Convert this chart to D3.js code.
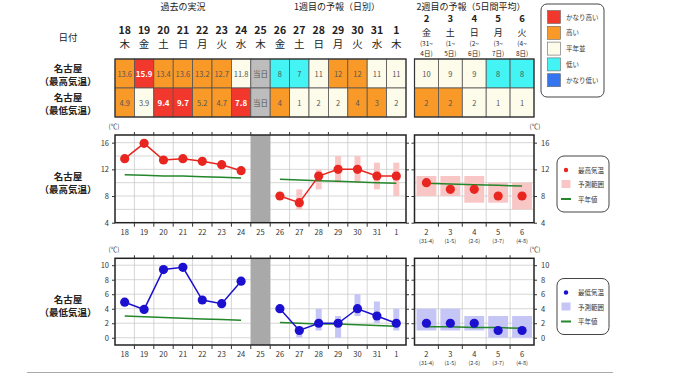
<!DOCTYPE html>
<html><head><meta charset="utf-8">
<script src="https://cdn.jsdelivr.net/npm/d3@7"></script>
<style>
body{margin:0;background:#fff;}
svg text{font-family:"Noto Sans CJK JP","Noto Sans",sans-serif;}
</style></head><body>
<svg id="chart" width="680" height="382"></svg>
<script>
// days on the first table / panel (past 7 days, today, week-1 forecast)
const days = ["18","19","20","21","22","23","24","25","26","27","28","29","30","31","1"];
const weekdays = ["木","金","土","日","月","火","水","木","金","土","日","月","火","水","木"];
const pastDays = ["18","19","20","21","22","23","24"];
const w1Days = ["26","27","28","29","30","31","1"];
const todayDay = "25";

// week 2 (5-day means)
const w2Days = ["2","3","4","5","6"];
const w2Weekdays = ["金","土","日","月","火"];
const w2SpanTop = ["(31~","(1~","(2~","(3~","(4~"];
const w2SpanBottom = ["4日)","5日)","6日)","7日)","8日)"];
const w2AxisSub = ["(31-4)","(1-5)","(2-6)","(3-7)","(4-8)"];

// max temperature
const pastMax = [13.6,15.9,13.4,13.6,13.2,12.7,11.8];
const pastMaxLevel = ["high","vhigh","high","high","high","high","normal"];
const pastMaxNormal = [11.2,11.1,11.0,11.0,10.9,10.8,10.7];
const w1Max = [8,7,11,12,12,11,11];
const w1MaxLevel = ["low","low","normal","high","high","normal","normal"];
const w1MaxLo = [null,6,9,10,10,9,8];
const w1MaxHi = [null,9,12,14,14,13,13];
const w1MaxNormal = [10.5,10.4,10.3,10.2,10.1,10.0,9.9];
const w2Max = [10,9,9,8,8];
const w2MaxLevel = ["normal","normal","normal","low","low"];
const w2MaxLo = [8,8,7,7,6];
const w2MaxHi = [11,11,11,10,10];
const w2MaxNormal = [9.9,9.8,9.7,9.6,9.5];

// min temperature
const pastMin = [4.9,3.9,9.4,9.7,5.2,4.7,7.8];
const pastMinLevel = ["high","normal","vhigh","vhigh","high","high","vhigh"];
const pastMinNormal = [3.0,2.9,2.8,2.7,2.6,2.5,2.4];
const w1Min = [4,1,2,2,4,3,2];
const w1MinLevel = ["high","normal","normal","normal","high","high","normal"];
const w1MinLo = [null,0,1,0,3,2,1];
const w1MinHi = [null,1,4,3,6,5,4];
const w1MinNormal = [2.1,2.0,1.9,1.9,1.8,1.7,1.6];
const w2Min = [2,2,2,1,1];
const w2MinLevel = ["high","high","normal","normal","normal"];
const w2MinLo = [1,1,1,0,0];
const w2MinHi = [4,4,3,3,3];
const w2MinNormal = [1.5,1.5,1.4,1.4,1.3];

const levelNames = ["vhigh","high","normal","low","vlow"];
const levelLabels = ["かなり高い","高い","平年並","低い","かなり低い"];

const levelColor = {vhigh:"#f2372c", high:"#f99a28", normal:"#fdfbea", low:"#44f3f3", vlow:"#3474ee", today:"#bdbdbd"};

const svg = d3.select("#chart");
const dayX = d3.scaleBand().domain(days).range([115, 406]);
const w2X = d3.scaleBand().domain(w2Days).range([414.5, 534]);

// ---------- headers ----------
const hdr = svg.append("g").attr("fill", "#222").attr("font-size", 9).attr("text-anchor", "middle");
hdr.append("text").attr("x", 183).attr("y", 9.5).text("過去の実況");
hdr.append("text").attr("x", 337).attr("y", 9.5).text("1週目の予報（日別）");
hdr.append("text").attr("x", 471).attr("y", 9.5).text("2週目の予報（5日間平均）");
hdr.append("text").attr("x", 68).attr("y", 41).attr("font-size", 9.5).text("日付");

days.forEach((d, i) => {
  hdr.append("text").attr("x", dayX(d) + dayX.bandwidth()/2).attr("y", 33.5)
    .attr("font-weight", "bold").attr("font-size", 10.5).attr("font-family", "Liberation Sans, Arial").text(d);
  hdr.append("text").attr("x", dayX(d) + dayX.bandwidth()/2).attr("y", 48)
    .attr("font-size", 10.5).text(weekdays[i]);
});
w2Days.forEach((d, i) => {
  const cx = w2X(d) + w2X.bandwidth()/2;
  hdr.append("text").attr("x", cx).attr("y", 22).attr("font-weight", "bold")
    .attr("font-size", 9.5).attr("font-family", "Liberation Sans, Arial").text(d);
  hdr.append("text").attr("x", cx).attr("y", 35.5).attr("font-size", 9).text(w2Weekdays[i]);
  hdr.append("text").attr("x", cx).attr("y", 46).attr("font-size", 6.5).text(w2SpanTop[i]);
  hdr.append("text").attr("x", cx).attr("y", 55.5).attr("font-size", 6.5).text(w2SpanBottom[i]);
});

// row labels
[["（最高気温）", 68], ["（最低気温）", 97]].forEach(([lab, y]) => {
  hdr.append("text").attr("x", 68).attr("y", y + 4).attr("font-size", 9.5).attr("font-weight", "bold").text("名古屋");
  hdr.append("text").attr("x", 68).attr("y", y + 17).attr("font-size", 9.5).attr("font-weight", "bold").text(lab);
});

// ---------- table ----------
const rows = [
  {y: 59, vals: pastMax.concat(["当日"], w1Max), lv: pastMaxLevel.concat(["today"], w1MaxLevel), w2: w2Max, w2lv: w2MaxLevel},
  {y: 88, vals: pastMin.concat(["当日"], w1Min), lv: pastMinLevel.concat(["today"], w1MinLevel), w2: w2Min, w2lv: w2MinLevel}
];
const rowH = 29;
const tbl = svg.append("g");
rows.forEach(r => {
  days.forEach((d, i) => {
    const lv = r.lv[i];
    tbl.append("rect").attr("x", dayX(d)).attr("y", r.y).attr("width", dayX.bandwidth()).attr("height", rowH)
      .attr("fill", levelColor[lv]).attr("stroke", "#555").attr("stroke-width", 0.8);
    tbl.append("text").attr("x", dayX(d) + dayX.bandwidth()/2).attr("y", r.y + rowH/2 + 3)
      .attr("text-anchor", "middle").attr("font-size", lv === "vhigh" ? 8 : 7.5)
      .attr("font-weight", lv === "vhigh" ? "bold" : "normal")
      .attr("fill", lv === "vhigh" ? "#fff" : "#555").text(r.vals[i]);
  });
  w2Days.forEach((d, i) => {
    const lv = r.w2lv[i];
    tbl.append("rect").attr("x", w2X(d)).attr("y", r.y).attr("width", w2X.bandwidth()).attr("height", rowH)
      .attr("fill", levelColor[lv]).attr("stroke", "#555").attr("stroke-width", 0.8);
    tbl.append("text").attr("x", w2X(d) + w2X.bandwidth()/2).attr("y", r.y + rowH/2 + 3)
      .attr("text-anchor", "middle").attr("font-size", 7.5).attr("fill", "#555").text(r.w2[i]);
  });
});
tbl.append("rect").attr("x", 115).attr("y", 59).attr("width", 291).attr("height", 58)
  .attr("fill", "none").attr("stroke", "#333").attr("stroke-width", 1.2);
tbl.append("rect").attr("x", 414.5).attr("y", 59).attr("width", 119.5).attr("height", 58)
  .attr("fill", "none").attr("stroke", "#333").attr("stroke-width", 1.2);

// level legend
const lg = svg.append("g");
lg.append("rect").attr("x", 541).attr("y", 4).attr("width", 63).attr("height", 93).attr("rx", 6)
  .attr("fill", "#fff").attr("stroke", "#444");
levelNames.forEach((l, i) => {
  const y = 17 + i * 15.8;
  lg.append("rect").attr("x", 547.5).attr("y", y - 6.5).attr("width", 13).attr("height", 13)
    .attr("fill", levelColor[l]).attr("stroke", "#666").attr("stroke-width", 0.6);
  lg.append("text").attr("x", 566).attr("y", y + 2.5).attr("font-size", 6.5).attr("fill", "#333").text(levelLabels[i]);
});

// ---------- charts ----------
function drawChart(c) {
  const g = svg.append("g");
  const y = d3.scaleLinear().domain(c.domain).range([c.bottom, c.top]);
  const cx = d => dayX(d) + dayX.bandwidth()/2;
  const wx = d => w2X(d) + w2X.bandwidth()/2;
  const panels = [[115, 406], [414.5, 534]];

  // grid
  panels.forEach(([x0, x1]) => {
    g.append("g").selectAll("line").data(c.grid).join("line")
      .attr("x1", x0).attr("x2", x1).attr("y1", d => y(d)).attr("y2", d => y(d))
      .attr("stroke", "#ccc").attr("stroke-width", 0.8);
  });
  g.append("g").selectAll("line").data(days.slice(1)).join("line")
    .attr("x1", d => dayX(d)).attr("x2", d => dayX(d)).attr("y1", c.top).attr("y2", c.bottom)
    .attr("stroke", "#ccc").attr("stroke-width", 0.8);
  g.append("g").selectAll("line").data(w2Days.slice(1)).join("line")
    .attr("x1", d => w2X(d)).attr("x2", d => w2X(d)).attr("y1", c.top).attr("y2", c.bottom)
    .attr("stroke", "#ccc").attr("stroke-width", 0.8);

  // today band
  g.append("rect").attr("x", dayX(todayDay)).attr("y", c.top).attr("width", dayX.bandwidth())
    .attr("height", c.bottom - c.top).attr("fill", "#a9a9a9");

  // range bars
  g.append("g").selectAll("rect").data(w1Days.filter((d, i) => c.w1Lo[i] != null)).join("rect")
    .attr("x", d => cx(d) - 3).attr("width", 6)
    .attr("y", d => y(c.w1Hi[w1Days.indexOf(d)]))
    .attr("height", d => y(c.w1Lo[w1Days.indexOf(d)]) - y(c.w1Hi[w1Days.indexOf(d)]))
    .attr("fill", c.rangeColor);
  g.append("g").selectAll("rect").data(w2Days).join("rect")
    .attr("x", d => w2X(d) + 2).attr("width", w2X.bandwidth() - 4)
    .attr("y", (d, i) => y(c.w2Hi[i]))
    .attr("height", (d, i) => y(c.w2Lo[i]) - y(c.w2Hi[i]))
    .attr("fill", c.rangeColor);

  // normals
  const nLine = xf => d3.line().x(d => xf(d[0])).y(d => y(d[1]));
  const normCol = "#23862a";
  g.append("path").attr("d", nLine(cx)(d3.zip(pastDays, c.pastNormal))).attr("fill", "none").attr("stroke", normCol).attr("stroke-width", 1.5);
  g.append("path").attr("d", nLine(cx)(d3.zip(w1Days, c.w1Normal))).attr("fill", "none").attr("stroke", normCol).attr("stroke-width", 1.5);
  g.append("path").attr("d", nLine(wx)(d3.zip(w2Days, c.w2Normal))).attr("fill", "none").attr("stroke", normCol).attr("stroke-width", 1.5);

  // observed / forecast lines
  g.append("path").attr("d", nLine(cx)(d3.zip(pastDays, c.past))).attr("fill", "none").attr("stroke", c.color).attr("stroke-width", 1.5);
  g.append("path").attr("d", nLine(cx)(d3.zip(w1Days, c.w1))).attr("fill", "none").attr("stroke", c.color).attr("stroke-width", 1.5);
  g.append("g").selectAll("circle").data(d3.zip(pastDays.concat(w1Days), c.past.concat(c.w1))).join("circle")
    .attr("cx", d => cx(d[0])).attr("cy", d => y(d[1])).attr("r", 4.6).attr("fill", c.color);
  g.append("g").selectAll("circle").data(d3.zip(w2Days, c.w2)).join("circle")
    .attr("cx", d => wx(d[0])).attr("cy", d => y(d[1])).attr("r", 4.6).attr("fill", c.color);

  // frames
  panels.forEach(([x0, x1]) => {
    g.append("rect").attr("x", x0).attr("y", c.top).attr("width", x1 - x0).attr("height", c.bottom - c.top)
      .attr("fill", "none").attr("stroke", "#222").attr("stroke-width", 1.5);
  });

  // y axes
  const styleAxis = sel => { sel.select(".domain").remove(); sel.selectAll("text").attr("font-size", 7.5).attr("fill", "#333").attr("font-family", "Liberation Sans, Arial"); sel.selectAll("line").attr("stroke", "#333"); };
  g.append("g").attr("transform", "translate(115,0)").call(d3.axisLeft(y).tickValues(c.ticks).tickSize(3).tickPadding(3)).call(styleAxis);
  g.append("g").attr("transform", "translate(406,0)").call(d3.axisRight(y).tickValues(c.ticks).tickSize(3).tickFormat("")).call(styleAxis);
  g.append("g").attr("transform", "translate(414.5,0)").call(d3.axisLeft(y).tickValues(c.ticks).tickSize(3).tickFormat("")).call(styleAxis);
  g.append("g").attr("transform", "translate(534,0)").call(d3.axisRight(y).tickValues(c.ticks).tickSize(3).tickPadding(4)).call(styleAxis);
  g.append("text").attr("x", 114).attr("y", c.top - 6).attr("text-anchor", "middle").attr("font-size", 6.5).attr("fill", "#333").text("(℃)");
  g.append("text").attr("x", 535).attr("y", c.top - 6).attr("text-anchor", "middle").attr("font-size", 6.5).attr("fill", "#333").text("(℃)");

  // x ticks at band boundaries
  const bx = days.map(d => dayX(d)).slice(1);
  const bx2 = w2Days.map(d => w2X(d)).slice(1);
  g.append("g").selectAll("line").data(bx.concat(bx2)).join("line")
    .attr("x1", d => d).attr("x2", d => d).attr("y1", c.bottom).attr("y2", c.bottom + 4).attr("stroke", "#333");
  g.append("g").selectAll("line").data(bx.concat(bx2)).join("line")
    .attr("x1", d => d).attr("x2", d => d).attr("y1", c.top - 3).attr("y2", c.top).attr("stroke", "#333");

  // x labels
  g.append("g").selectAll("text").data(days).join("text")
    .attr("x", d => cx(d)).attr("y", c.bottom + 12).attr("text-anchor", "middle")
    .attr("font-size", 7.5).attr("fill", "#333").attr("font-family", "Liberation Sans, Arial").text(d => d);
  g.append("g").selectAll("text").data(w2Days).join("text")
    .attr("x", d => wx(d)).attr("y", c.bottom + 12).attr("text-anchor", "middle")
    .attr("font-size", 7.5).attr("fill", "#333").attr("font-family", "Liberation Sans, Arial").text(d => d);
  g.append("g").selectAll("text").data(w2AxisSub).join("text")
    .attr("x", (d, i) => wx(w2Days[i])).attr("y", c.bottom + 20).attr("text-anchor", "middle")
    .attr("font-size", 5.5).attr("fill", "#333").text(d => d);

  // row label
  g.append("text").attr("x", 68).attr("y", c.labelY).attr("text-anchor", "middle").attr("font-size", 9.5).attr("font-weight", "bold").attr("fill", "#222").text("名古屋");
  g.append("text").attr("x", 68).attr("y", c.labelY + 13).attr("text-anchor", "middle").attr("font-size", 9.5).attr("font-weight", "bold").attr("fill", "#222").text(c.label);

  // legend
  const L = g.append("g");
  L.append("rect").attr("x", 557).attr("y", c.legendY).attr("width", 52).attr("height", 56).attr("rx", 7)
    .attr("fill", "#fff").attr("stroke", "#444");
  const ly = c.legendY + 14;
  L.append("circle").attr("cx", 566).attr("cy", ly).attr("r", 2.2).attr("fill", c.color);
  L.append("rect").attr("x", 561.5).attr("y", ly + 10).attr("width", 9).attr("height", 8).attr("fill", c.rangeColor);
  L.append("line").attr("x1", 561).attr("x2", 571).attr("y1", ly + 29).attr("y2", ly + 29).attr("stroke", normCol).attr("stroke-width", 2);
  [c.legendName, "予測範囲", "平年値"].forEach((t, i) => {
    L.append("text").attr("x", 578).attr("y", ly + 2.5 + i * 14.6).attr("font-size", 6.5).attr("fill", "#333").text(t);
  });
}

drawChart({
  top: 135, bottom: 222.7, domain: [4, 17.15], ticks: [4, 8, 12, 16], grid: [6, 8, 10, 12, 14, 16],
  past: pastMax, pastNormal: pastMaxNormal, w1: w1Max, w1Lo: w1MaxLo, w1Hi: w1MaxHi, w1Normal: w1MaxNormal,
  w2: w2Max, w2Lo: w2MaxLo, w2Hi: w2MaxHi, w2Normal: w2MaxNormal,
  color: "#e8261f", rangeColor: "#f9c6c6", label: "（最高気温）", labelY: 180, legendY: 156, legendName: "最高気温"
});
drawChart({
  top: 258.3, bottom: 345, domain: [-1, 10.95], ticks: [0, 2, 4, 6, 8, 10], grid: [0, 2, 4, 6, 8, 10],
  past: pastMin, pastNormal: pastMinNormal, w1: w1Min, w1Lo: w1MinLo, w1Hi: w1MinHi, w1Normal: w1MinNormal,
  w2: w2Min, w2Lo: w2MinLo, w2Hi: w2MinHi, w2Normal: w2MinNormal,
  color: "#1c10d0", rangeColor: "#c6c6f6", label: "（最低気温）", labelY: 303, legendY: 278.5, legendName: "最低気温"
});

svg.append("line").attr("x1", 27).attr("x2", 613).attr("y1", 372.5).attr("y2", 372.5).attr("stroke", "#aaa");
</script>
</body></html>
